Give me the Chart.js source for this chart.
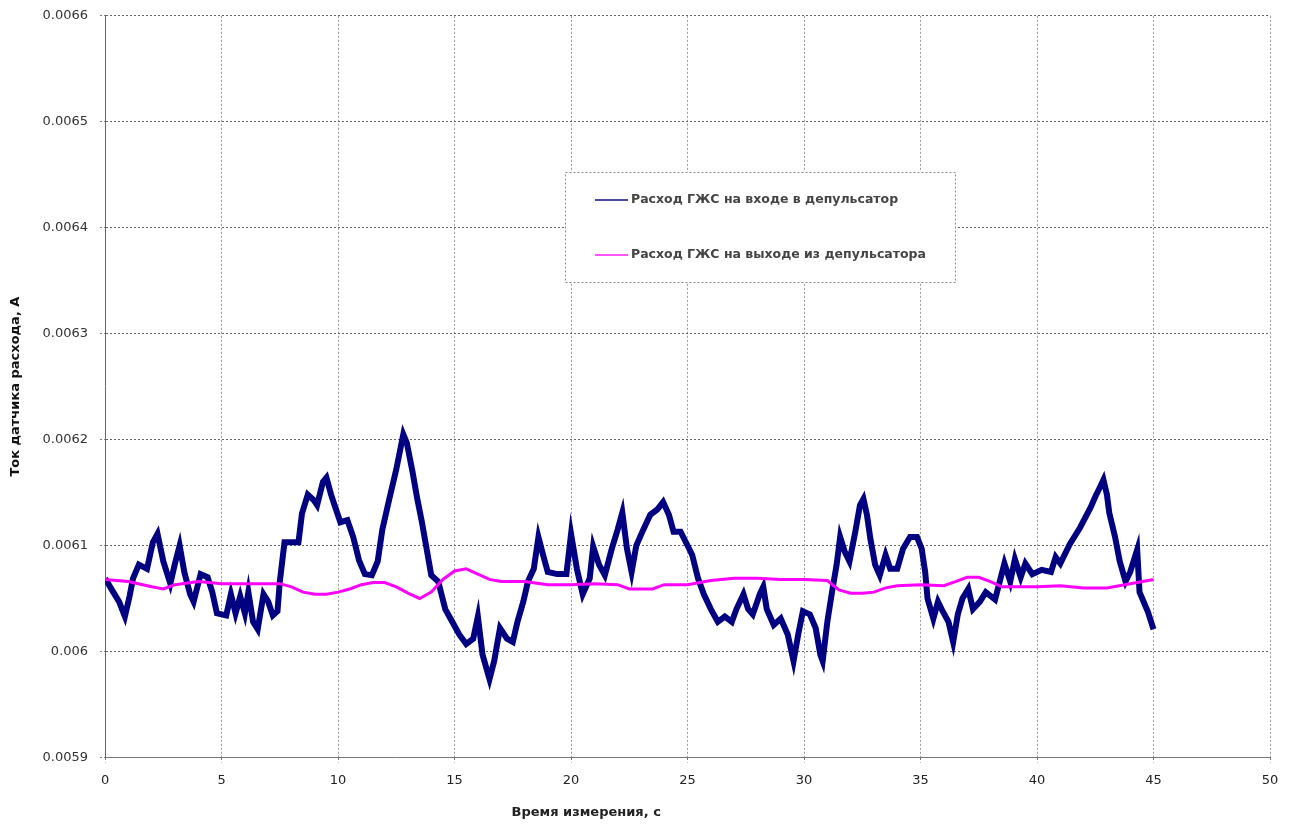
<!DOCTYPE html>
<html>
<head>
<meta charset="utf-8">
<script src="https://cdn.jsdelivr.net/npm/chart.js@4.4.1/dist/chart.umd.min.js"></script>
<style>
  html, body { margin: 0; padding: 0; background: #fff; overflow: hidden; }
  #wrap { width: 1299px; height: 835px; margin-top: -4px; }
</style>
</head>
<body>
<div id="wrap"><canvas id="myChart"></canvas></div>
<script>
// время, с  и ток, А
const inTime = [0.0,0.35,0.6,0.85,1.05,1.2,1.45,1.8,2.05,2.25,2.5,2.8,3.0,3.2,3.4,3.65,3.8,4.1,4.4,4.6,4.8,5.2,5.4,5.6,5.8,6.0,6.15,6.35,6.55,6.8,7.0,7.2,7.4,7.5,7.7,8.0,8.3,8.45,8.7,8.95,9.1,9.35,9.5,9.7,9.85,10.1,10.4,10.65,10.9,11.15,11.45,11.7,11.9,12.2,12.5,12.8,12.95,13.2,13.4,13.6,13.8,14.0,14.3,14.6,14.9,15.2,15.5,15.8,16.0,16.2,16.5,16.7,16.95,17.25,17.5,17.7,17.95,18.15,18.4,18.6,18.8,19.0,19.4,19.8,20.0,20.25,20.5,20.8,20.95,21.2,21.45,21.75,22.0,22.2,22.4,22.6,22.8,23.1,23.4,23.7,23.95,24.2,24.4,24.7,25.0,25.2,25.45,25.7,26.0,26.3,26.6,26.9,27.1,27.4,27.6,27.8,28.1,28.25,28.4,28.7,29.0,29.3,29.55,29.75,29.95,30.25,30.5,30.7,30.8,31.0,31.2,31.4,31.55,31.75,31.95,32.2,32.4,32.55,32.7,32.85,33.05,33.25,33.5,33.7,34.0,34.25,34.55,34.85,35.05,35.2,35.3,35.55,35.75,35.95,36.2,36.4,36.6,36.8,37.05,37.25,37.55,37.8,38.2,38.6,38.85,39.05,39.3,39.5,39.8,40.2,40.6,40.8,41.0,41.4,41.85,42.3,42.5,42.7,42.85,43.0,43.1,43.35,43.55,43.8,44.0,44.3,44.4,44.75,45.0];
const inFlow = [0.006069,0.006056,0.006047,0.006033,0.006052,0.006069,0.006082,0.006078,0.006103,0.006111,0.006085,0.006064,0.006083,0.006100,0.006075,0.006054,0.006047,0.006073,0.006070,0.006056,0.006036,0.006034,0.006054,0.006036,0.006052,0.006036,0.006056,0.006028,0.006021,0.006054,0.006047,0.006034,0.006038,0.006066,0.006103,0.006103,0.006103,0.006130,0.006148,0.006143,0.006138,0.006160,0.006164,0.006148,0.006138,0.006122,0.006124,0.006108,0.006086,0.006073,0.006072,0.006085,0.006115,0.006144,0.006172,0.006205,0.006197,0.006169,0.006144,0.006122,0.006097,0.006072,0.006066,0.006040,0.006028,0.006016,0.006007,0.006012,0.006033,0.005997,0.005974,0.005991,0.006022,0.006012,0.006009,0.006028,0.006047,0.006066,0.006078,0.006108,0.006091,0.006075,0.006073,0.006073,0.006111,0.006078,0.006054,0.006069,0.006099,0.006082,0.006072,0.006097,0.006115,0.006131,0.006097,0.006075,0.006100,0.006115,0.006129,0.006134,0.006141,0.006129,0.006113,0.006113,0.006100,0.006091,0.006069,0.006054,0.006040,0.006028,0.006033,0.006028,0.006040,0.006054,0.006040,0.006035,0.006054,0.006061,0.006040,0.006025,0.006031,0.006016,0.005991,0.006016,0.006038,0.006035,0.006022,0.005997,0.005991,0.006028,0.006056,0.006082,0.006108,0.006094,0.006085,0.006113,0.006138,0.006144,0.006129,0.006106,0.006082,0.006072,0.006091,0.006078,0.006078,0.006097,0.006108,0.006108,0.006097,0.006075,0.006050,0.006031,0.006047,0.006038,0.006028,0.006009,0.006035,0.006050,0.006059,0.006040,0.006047,0.006056,0.006049,0.006083,0.006066,0.006087,0.006070,0.006083,0.006073,0.006077,0.006075,0.006089,0.006083,0.006101,0.006117,0.006136,0.006146,0.006155,0.006162,0.006148,0.006131,0.006108,0.006085,0.006066,0.006075,0.006096,0.006056,0.006038,0.006021];

const outTime = [0,1,2,2.5,3,4,5,6,7,7.5,8,8.5,9,9.5,10,10.5,11,11.5,12,12.5,13,13.5,14,14.5,15,15.5,16,16.5,17,18,19,20,21,22,22.5,23.5,24,25,26,27,28,29,30,31,31.5,32,32.5,33,33.5,34,35,36,36.5,37,37.5,38,38.5,39,40,41,42,43,44,45];
const outFlow = [0.006068,0.006066,0.006061,0.006059,0.006063,0.006066,0.006064,0.006064,0.006064,0.006064,0.006061,0.006056,0.006054,0.006054,0.006056,0.006059,0.006063,0.006065,0.006065,0.006061,0.006055,0.006050,0.006056,0.006068,0.006076,0.006078,0.006073,0.006068,0.006066,0.006066,0.006063,0.006063,0.006064,0.006063,0.006059,0.006059,0.006063,0.006063,0.006067,0.006069,0.006069,0.006068,0.006068,0.006067,0.006058,0.006055,0.006055,0.006056,0.006060,0.006062,0.006063,0.006062,0.006066,0.006070,0.006070,0.006066,0.006061,0.006061,0.006061,0.006062,0.006060,0.006060,0.006064,0.006068];

const seriesNames = ['Расход ГЖС на входе в депульсатор', 'Расход ГЖС на выходе из депульсатора'];
const xTitle = 'Время измерения, с';
const yTitle = 'Ток датчика расхода, А';

const toPts = (xs, ys) => xs.map((x, i) => ({x: x, y: ys[i]}));
const fontFam = '"DejaVu Sans", "Liberation Sans", sans-serif';
const shiftY = 4; // canvas is moved up by this much

// легенда в рамке посреди графика, как в Excel
const boxLegend = {
  id: 'boxLegend',
  afterDraw(chart) {
    const ctx = chart.ctx;
    const x0 = 565, y0 = 172 + shiftY, w = 390, h = 110;
    ctx.save();
    ctx.fillStyle = '#fff';
    ctx.fillRect(x0, y0, w, h);
    ctx.strokeStyle = '#888';
    ctx.lineWidth = 1;
    ctx.setLineDash([2, 2]);
    ctx.strokeRect(x0 + 0.5, y0 + 0.5, w, h);
    ctx.setLineDash([]);
    ctx.font = 'bold 12.5px ' + fontFam;
    ctx.textBaseline = 'middle';
    chart.data.datasets.forEach((ds, i) => {
      const yy = y0 + 28 + i * 55;
      ctx.strokeStyle = ds.legendColor;
      ctx.lineWidth = 2;
      ctx.beginPath();
      ctx.moveTo(x0 + 30, yy);
      ctx.lineTo(x0 + 63, yy);
      ctx.stroke();
      ctx.fillStyle = '#444';
      ctx.fillText(ds.label, x0 + 66, yy);
    });
    // подпись оси X смещена влево
    const a = chart.chartArea;
    ctx.font = 'bold 13px ' + fontFam;
    ctx.textAlign = 'center';
    ctx.fillStyle = '#222';
    ctx.fillText(xTitle, a.left + (a.right - a.left) * 0.413, 813 + shiftY);
    ctx.restore();
  }
};

const config = {
  type: 'line',
  data: {
    datasets: [
      {
        label: seriesNames[0],
        data: toPts(inTime, inFlow),
        borderColor: '#000080',
        legendColor: '#4a4aa0',
        borderWidth: 6,
        pointRadius: 0,
        tension: 0,
        order: 1
      },
      {
        label: seriesNames[1],
        data: toPts(outTime, outFlow),
        borderColor: '#ff00ff',
        legendColor: '#ff55ff',
        borderWidth: 3,
        pointRadius: 0,
        tension: 0,
        order: 0
      }
    ]
  },
  options: {
    responsive: true,
    maintainAspectRatio: false,
    animation: false,
    layout: { padding: { left: 8, right: 29, top: 0, bottom: 33 } },
    plugins: {
      legend: { display: false },
      tooltip: { enabled: false }
    },
    scales: {
      x: {
        type: 'linear',
        min: 0,
        max: 50,
        ticks: {
          stepSize: 5,
          color: '#222',
          padding: 10,
          font: { family: fontFam, size: 13 }
        },
        grid: { color: '#999', tickLength: 5, tickColor: '#777', tickBorderDash: [2, 2] },
        border: { color: '#777', dash: [2, 2] }
      },
      y: {
        min: 0.0059,
        max: 0.0066,
        ticks: {
          stepSize: 0.0001,
          color: '#333',
          padding: 12,
          font: { family: fontFam, size: 13 },
          callback: v => String(Number(v.toFixed(4)))
        },
        grid: { color: '#666', tickLength: 5, tickColor: '#777', tickBorderDash: [2, 2] },
        border: { color: '#666', dash: [2, 2] },
        title: {
          display: true,
          text: yTitle,
          color: '#111',
          padding: { top: 0, bottom: 7 },
          font: { family: fontFam, size: 13, weight: 'bold' }
        }
      }
    }
  },
  plugins: [boxLegend]
};

// пунктирная сетка
Chart.defaults.scale.grid.borderDash = [2, 2];

var myChart = new Chart(document.getElementById('myChart'), config);
</script>
</body>
</html>
